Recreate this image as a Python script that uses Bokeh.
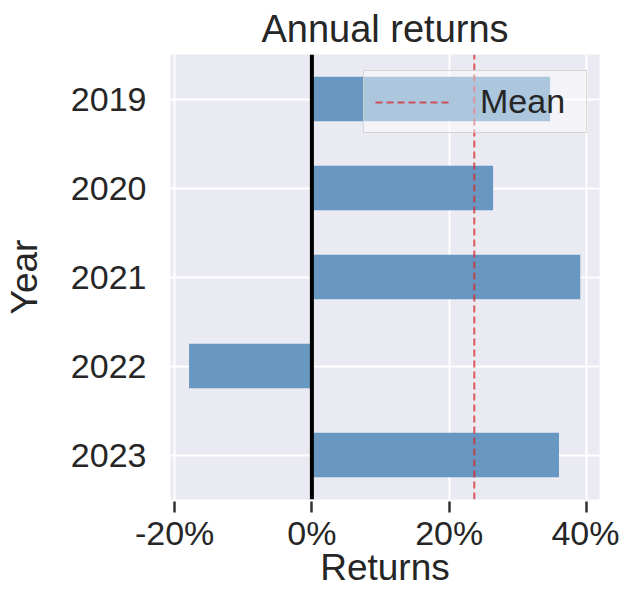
from bokeh.plotting import figure
from bokeh.models import Range1d, FactorRange, Span, Legend, LegendItem
from bokeh.embed import file_html
from bokeh.resources import INLINE

# ---- data ----
years = ["2019", "2020", "2021", "2022", "2023"]
returns = [34.7, 26.4, 39.1, -17.9, 36.0]          # annual returns, percent
x_ticks = [-20, 0, 20, 40]
x_tick_labels = ["-20%", "0%", "20%", "40%"]
mean_return = sum(returns) / len(returns)

FONT = "Liberation Sans"
TXT = "#262626"

x_lo, x_hi = -20.6, 41.9
p = figure(width=619, height=594, output_backend="svg", toolbar_location=None,
           y_range=FactorRange(factors=years[::-1]),
           x_range=Range1d(x_lo, x_hi),
           title="Annual returns",
           min_border_left=162, min_border_right=20,
           min_border_top=47, min_border_bottom=95)

p.background_fill_color = "#EAEAF2"
p.border_fill_color = "white"
p.outline_line_color = None

# bars
p.hbar(y=years, left=0, right=returns, height=0.5,
       fill_color="#6898C2", line_color=None)

# zero line
p.add_layout(Span(location=0, dimension="height", line_color="black", line_width=4))

# mean line (spans the full categorical axis)
bottom_cat, top_cat = years[-1], years[0]
mean_r = p.line(x=[mean_return, mean_return], y=[(bottom_cat, -0.5), (top_cat, 0.5)],
                line_color="#d62728", line_alpha=0.75, line_width=2, line_dash="7 4")

legend = Legend(items=[LegendItem(label="Mean", renderers=[mean_r])],
                location=(193, 366))
legend.label_text_font = FONT
legend.label_text_font_size = "34px"
legend.label_text_color = TXT
legend.glyph_width = 75
legend.glyph_height = 30
legend.label_standoff = 30
legend.label_width = 95
legend.padding = 11
legend.margin = 0
legend.background_fill_color = "white"
legend.background_fill_alpha = 0.45
legend.border_line_color = "#cccccc"
legend.border_line_alpha = 0.8
legend.border_line_width = 1
p.add_layout(legend)

# grid
p.grid.grid_line_color = "white"
p.grid.grid_line_width = 2

# title
p.title.text_font = FONT
p.title.text_font_size = "38px"
p.title.text_font_style = "normal"
p.title.text_color = TXT
p.title.align = "center"

# x axis
p.xaxis.ticker = x_ticks
p.xaxis.major_label_overrides = {t: l for t, l in zip(x_ticks, x_tick_labels)}
p.xaxis.axis_label = "Returns"
p.xaxis.axis_line_color = None
p.xaxis.major_tick_line_color = "#333333"
p.xaxis.major_tick_line_width = 2.5
p.xaxis.major_tick_in = -2
p.xaxis.major_tick_out = 13
p.xaxis.minor_tick_line_color = None
p.xaxis.major_label_standoff = 1
p.xaxis.axis_label_standoff = -8

# y axis
p.yaxis.axis_label = "Year"
p.yaxis.axis_line_color = None
p.yaxis.major_tick_line_color = None
p.yaxis.minor_tick_line_color = None
p.yaxis.major_label_standoff = 18
p.yaxis.axis_label_standoff = 23

for ax in (p.xaxis, p.yaxis):
    ax.major_label_text_font = FONT
    ax.major_label_text_font_size = "34px"
    ax.major_label_text_color = TXT
    ax.axis_label_text_font = FONT
    ax.axis_label_text_font_size = "37px"
    ax.axis_label_text_font_style = "normal"
    ax.axis_label_text_color = TXT

open("out.html", "w").write(file_html(p, INLINE))
